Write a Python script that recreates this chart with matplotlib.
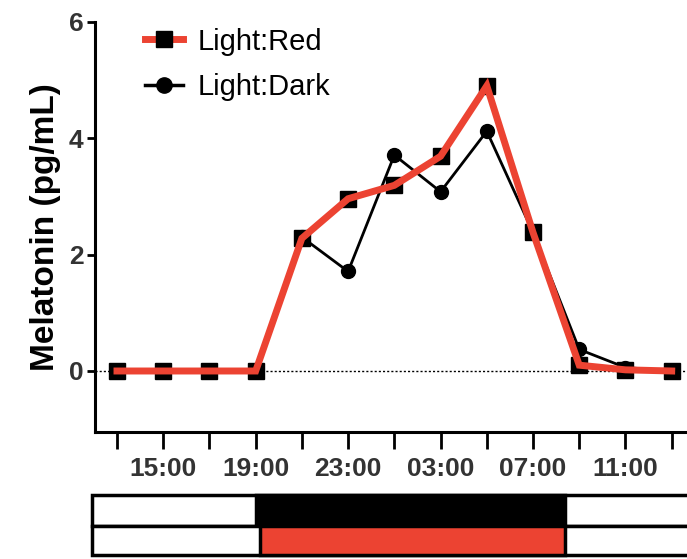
import matplotlib.pyplot as plt
from matplotlib.lines import Line2D
from matplotlib.patches import Rectangle

plt.rcParams["font.family"] = ["Liberation Sans", "DejaVu Sans"]

# sampling times, every 2 h from 13:00 to 13:00 next day
times = ["13:00", "15:00", "17:00", "19:00", "21:00", "23:00", "01:00",
         "03:00", "05:00", "07:00", "09:00", "11:00", "13:00"]
labelled = ["15:00", "19:00", "23:00", "03:00", "07:00", "11:00"]

# melatonin (pg/mL)
light_red = [0, 0, 0, 0, 2.28, 2.96, 3.19, 3.69, 4.9, 2.38, 0.1, 0.02, 0]
light_dark = [0, 0, 0, 0, 2.3, 1.71, 3.71, 3.08, 4.12, 2.38, 0.37, 0.06, 0]

# lighting schedule bar (in sample-index units)
dark_start, dark_end = 3.0, 9.7
red_start, red_end = 3.1, 9.7

RED = "#EC4332"

x = list(range(len(times)))

fig = plt.figure(figsize=(6.87, 5.59), dpi=100)
ax = fig.add_axes([0.138, 0.227, 0.87, 0.734])

ax.axhline(0, color="black", linestyle=(0, (1.5, 1.5)), linewidth=1.0, zorder=1)

ax.plot(x, light_dark, color="black", linewidth=2.0, marker="o",
        markersize=10, zorder=2)
ax.plot(x, light_red, linestyle="none", marker="s", markersize=12,
        color="black", zorder=3)
ax.plot(x, light_red, color=RED, linewidth=5, solid_joinstyle="miter",
        zorder=4)

ax.set_xlim(-0.48, 12.45)
ax.set_ylim(-1.05, 6)
ax.set_yticks([0, 2, 4, 6])
ax.set_xticks(x)
ax.set_xticklabels([t if (i % 2 == 1 and t in labelled) else "" for i, t in enumerate(times)])

for side in ["top", "right"]:
    ax.spines[side].set_visible(False)
for side in ["left", "bottom"]:
    ax.spines[side].set_linewidth(2.2)

ax.tick_params(axis="x", length=12, width=2, pad=6, labelsize=19)
ax.tick_params(axis="y", length=6, width=2, pad=2, labelsize=19)
for lab in ax.get_xticklabels() + ax.get_yticklabels():
    lab.set_fontweight("bold")
    lab.set_color("#333333")

ax.set_ylabel("Melatonin (pg/mL)", fontsize=24, fontweight="bold", labelpad=6)

handles = [
    Line2D([], [], color=RED, linewidth=5, marker="s", markersize=12,
           markerfacecolor="black", markeredgecolor="black"),
    Line2D([], [], color="black", linewidth=2.5, marker="o", markersize=11),
]
ax.legend(handles, ["Light:Red", "Light:Dark"], loc="upper left",
          bbox_to_anchor=(0.04, 1.05), frameon=False, fontsize=21,
          handlelength=1.3, handletextpad=0.5, labelspacing=0.6)

# schedule bar below the time axis
bx = fig.add_axes([0.138, 0.004, 0.87, 0.111])
bx.set_xlim(ax.get_xlim())
bx.set_ylim(0, 2)
bx.axis("off")
left = -0.53
right = 13.5
rows = [
    # top row: dark phase
    (1.0, 1.0, dark_start, dark_end, "black"),
    # bottom row: red light phase
    (0.05, 0.95, red_start, red_end, RED),
]
for y0, h, s, e, fill in rows:
    bx.add_patch(Rectangle((left, y0), right - left, h, facecolor="white",
                           edgecolor="black", linewidth=2.5, clip_on=False))
    bx.add_patch(Rectangle((s, y0), e - s, h, facecolor=fill,
                           edgecolor="black", linewidth=2.5, clip_on=False))

fig.savefig("out.png", dpi=100)
